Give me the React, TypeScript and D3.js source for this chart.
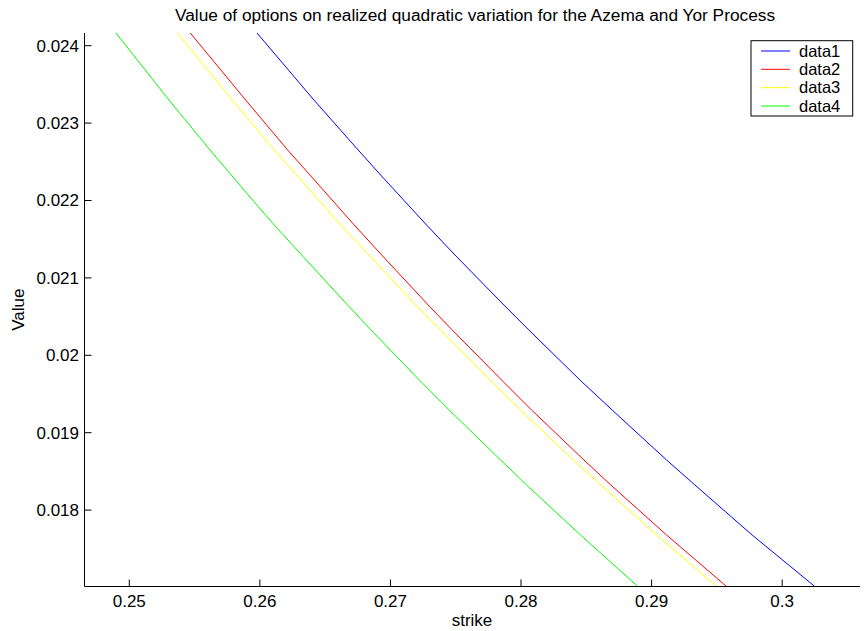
import React from "react";
import * as d3 from "d3";

const seriesNames = ["data1", "data2", "data3", "data4"];
const seriesColors = ["#0000ff", "#ff0000", "#ffff00", "#00ff00"];

// strike / value pairs
const data1Strike = [0.25978, 0.26414, 0.26753, 0.26925, 0.27277, 0.27494, 0.27869, 0.2806, 0.28451, 0.28698, 0.29115, 0.29332, 0.2977, 0.3025];
const data1Value = [0.024164, 0.023298, 0.022652, 0.022329, 0.021683, 0.021296, 0.02065, 0.020327, 0.019681, 0.019293, 0.018647, 0.018324, 0.017678, 0.017013];

const data2Strike = [0.25467, 0.25891, 0.26213, 0.26384, 0.26723, 0.26933, 0.27289, 0.27473, 0.27851, 0.28081, 0.28482, 0.28688, 0.29115, 0.29574];
const data2Value = [0.024164, 0.023298, 0.022652, 0.022329, 0.021683, 0.021296, 0.02065, 0.020327, 0.019681, 0.019293, 0.018647, 0.018324, 0.017678, 0.017013];

const data3Strike = [0.25368, 0.25789, 0.2611, 0.26282, 0.26619, 0.26835, 0.27193, 0.27384, 0.27762, 0.27997, 0.284, 0.28612, 0.29038, 0.29498];
const data3Value = [0.024164, 0.023298, 0.022652, 0.022329, 0.021683, 0.021296, 0.02065, 0.020327, 0.019681, 0.019293, 0.018647, 0.018324, 0.017678, 0.017013];

const data4Strike = [0.24898, 0.25304, 0.25618, 0.25924, 0.2611, 0.2632, 0.26672, 0.26851, 0.27221, 0.2745, 0.27844, 0.28043, 0.28456, 0.28895];
const data4Value = [0.024164, 0.023298, 0.022652, 0.022045, 0.021683, 0.021296, 0.02065, 0.020327, 0.019681, 0.019293, 0.018647, 0.018324, 0.017678, 0.017013];

const xTicks = [0.25, 0.26, 0.27, 0.28, 0.29, 0.3];
const yTicks = [0.018, 0.019, 0.02, 0.021, 0.022, 0.023, 0.024];

const xDomain = [0.24657, 0.30596];
const yDomain = [0.017013, 0.024164];

const titleText = "Value of options on realized quadratic variation for the Azema and Yor Process";
const xLabel = "strike";
const yLabel = "Value";

const W = 867;
const H = 631;
const left = 84.5;
const right = 860;
const top = 33;
const bottom = 586.5;
const FONT = "'Liberation Sans', Arial, Helvetica, sans-serif";

export default function App() {
  const x = d3.scaleLinear().domain(xDomain).range([left, right]);
  const y = d3.scaleLinear().domain(yDomain).range([bottom, top]);
  const strikes = [data1Strike, data2Strike, data3Strike, data4Strike];
  const values = [data1Value, data2Value, data3Value, data4Value];
  const line = d3
    .line<[number, number]>()
    .x((d) => x(d[0]))
    .y((d) => y(d[1]));
  const fmt = (v: number) => String(+v.toFixed(4));

  const legX = 751;
  const legY = 40.7;
  const legW = 101.7;
  const legH = 75.3;
  const rowY = [51, 69.3, 87.7, 106];

  return (
    <svg
      width={W}
      height={H}
      style={{ position: "absolute", left: 0, top: 0, background: "#fff" }}
      fontFamily={FONT}
    >
      <rect x={0} y={0} width={W} height={H} fill="#fff" />
      <defs>
        <clipPath id="plotclip">
          <rect x={left} y={top} width={right - left} height={bottom - top} />
        </clipPath>
      </defs>
      <g clipPath="url(#plotclip)">
        {strikes.map((s, i) => (
          <path
            key={i}
            d={line(s.map((v, j) => [v, values[i][j]] as [number, number])) || ""}
            fill="none"
            stroke={seriesColors[i]}
            strokeWidth={1}
          />
        ))}
      </g>
      {/* axes */}
      <line x1={left} x2={left} y1={top} y2={bottom} stroke="#000" strokeWidth={1} />
      <line x1={left} x2={right} y1={bottom} y2={bottom} stroke="#000" strokeWidth={1} />
      {xTicks.map((t) => (
        <g key={"x" + t}>
          <line x1={x(t)} x2={x(t)} y1={bottom} y2={bottom - 7} stroke="#000" />
          <text x={x(t)} y={607} fontSize={17} textAnchor="middle" fill="#000">
            {fmt(t)}
          </text>
        </g>
      ))}
      {yTicks.map((t) => (
        <g key={"y" + t}>
          <line x1={left} x2={left + 7} y1={y(t)} y2={y(t)} stroke="#000" />
          <text x={79} y={y(t)} dy="0.35em" fontSize={17} textAnchor="end" fill="#000">
            {fmt(t)}
          </text>
        </g>
      ))}
      <text x={475} y={21} fontSize={17.3} textAnchor="middle" fill="#000">
        {titleText}
      </text>
      <text x={472} y={626} fontSize={17} textAnchor="middle" fill="#000">
        {xLabel}
      </text>
      <text
        transform={`translate(24, ${(top + bottom) / 2}) rotate(-90)`}
        fontSize={17}
        textAnchor="middle"
        fill="#000"
      >
        {yLabel}
      </text>
      {/* legend */}
      <rect x={legX} y={legY} width={legW} height={legH} fill="#fff" stroke="#000" strokeWidth={1} />
      {seriesNames.map((n, i) => (
        <g key={n}>
          <line x1={761} x2={790} y1={rowY[i]} y2={rowY[i]} stroke={seriesColors[i]} strokeWidth={1} />
          <text x={799} y={rowY[i]} dy="0.35em" fontSize={16.5} fill="#000">
            {n}
          </text>
        </g>
      ))}
    </svg>
  );
}
